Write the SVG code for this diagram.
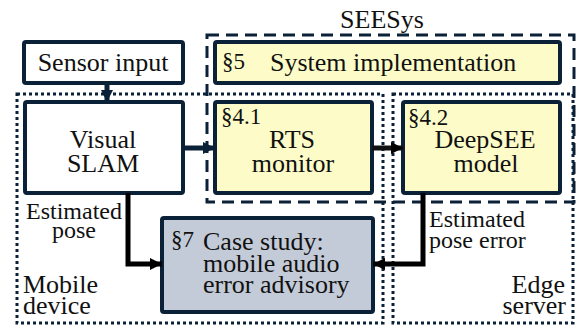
<svg xmlns="http://www.w3.org/2000/svg" width="576" height="327" viewBox="0 0 576 327">
  <defs>
    <marker id="headNavy" viewBox="0 0 10 10" refX="10" refY="5" markerWidth="2.4" markerHeight="2.8" orient="auto" markerUnits="strokeWidth">
      <path d="M0,0 L10,5 L0,10 Z" fill="#0b2138"/>
    </marker>
    <marker id="headBlack" viewBox="0 0 10 10" refX="10" refY="5" markerWidth="2.4" markerHeight="2.8" orient="auto" markerUnits="strokeWidth">
      <path d="M0,0 L10,5 L0,10 Z" fill="#000"/>
    </marker>
  </defs>

  <!-- regions: dotted device areas and the dashed SEESys frame -->
  <g fill="none" stroke="#0b2138" stroke-width="3">
    <rect id="mobile-region" x="17" y="94" width="366" height="229" stroke-dasharray="3 3"/>
    <rect id="edge-region" x="393" y="94" width="180" height="229" stroke-dasharray="3 3"/>
    <rect id="seesys-region" x="207" y="35" width="367" height="167" stroke-dasharray="12 7"/>
  </g>

  <!-- node boxes -->
  <g stroke="#0b2138" stroke-width="4">
    <rect id="sensor-input" x="24" y="42" width="159" height="41" rx="2" fill="#ffffff"/>
    <rect id="system-implementation" x="215" y="42" width="345" height="41" rx="2" fill="#fdfcc8"/>
    <rect id="visual-slam" x="25" y="102" width="158" height="91" rx="2" fill="#ffffff"/>
    <rect id="rts-monitor" x="215" y="102" width="157" height="91" rx="2" fill="#fdfcc8"/>
    <rect id="deepsee-model" x="403" y="102" width="157" height="91" rx="2" fill="#fdfcc8"/>
    <rect id="case-study" x="162" y="218" width="211" height="94" rx="2" fill="#c4cbd8"/>
  </g>

  <!-- connectors -->
  <g id="connectors" fill="none" stroke-width="5">
    <path stroke="#0b2138" d="M107,84 V102" marker-end="url(#headNavy)"/>
    <path stroke="#0b2138" d="M183,148 H215" marker-end="url(#headNavy)"/>
    <path stroke="#111" d="M372,148 H403" marker-end="url(#headBlack)"/>
    <path stroke="#000" d="M128,193 V264 H162" marker-end="url(#headBlack)"/>
    <path stroke="#000" d="M423,193 V264 H373" marker-end="url(#headBlack)"/>
  </g>

  <!-- labels -->
  <g font-family="Liberation Serif" font-size="26" fill="#111">
    <text x="382" y="28" text-anchor="middle">SEESys</text>
    <text x="103" y="71" text-anchor="middle">Sensor input</text>
    <text x="222" y="69" font-size="23">§5</text>
    <text x="270" y="71">System implementation</text>
    <text x="103" y="148" text-anchor="middle">Visual</text>
    <text x="103" y="172" text-anchor="middle">SLAM</text>
    <text x="221" y="124" font-size="23">§4.1</text>
    <text x="292" y="148" text-anchor="middle">RTS</text>
    <text x="293" y="172" text-anchor="middle">monitor</text>
    <text x="408" y="125" font-size="23">§4.2</text>
    <text x="485" y="148" text-anchor="middle">DeepSEE</text>
    <text x="486" y="172" text-anchor="middle">model</text>
    <text x="171" y="247" font-size="23">§7</text>
    <text x="203" y="250">Case study:</text>
    <text x="203" y="272">mobile audio</text>
    <text x="203" y="293">error advisory</text>
    <text x="74" y="219" font-size="24" text-anchor="middle">Estimated</text>
    <text x="74" y="238" font-size="24" text-anchor="middle">pose</text>
    <text x="429" y="227" font-size="24">Estimated</text>
    <text x="429" y="248" font-size="24">pose error</text>
    <text x="23" y="293">Mobile</text>
    <text x="23" y="314">device</text>
    <text x="565" y="293" text-anchor="end">Edge</text>
    <text x="566" y="314" text-anchor="end">server</text>
  </g>
</svg>
